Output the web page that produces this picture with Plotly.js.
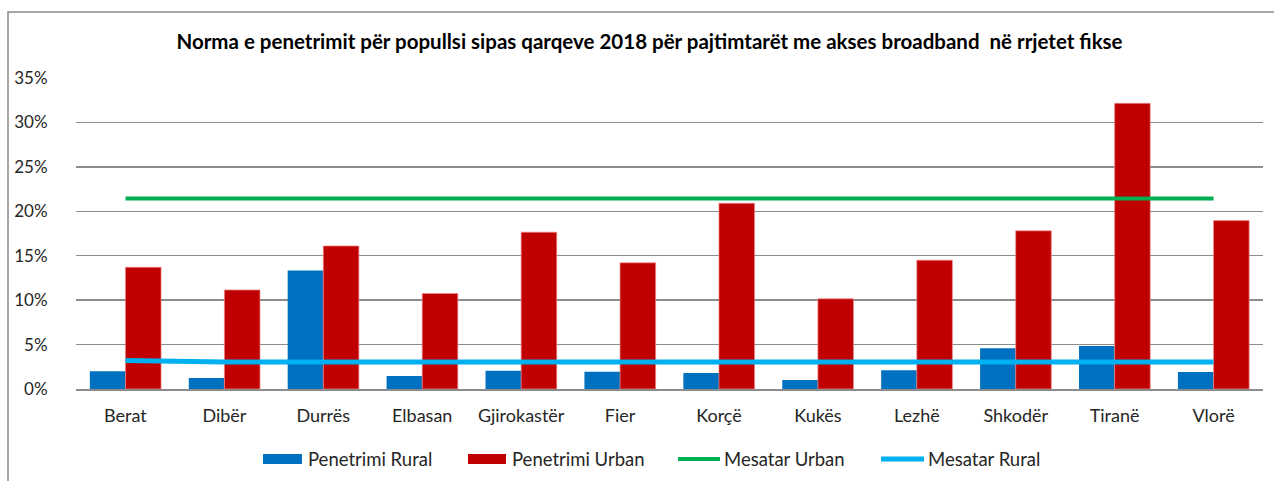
<!DOCTYPE html>
<html>
<head>
<meta charset="utf-8">
<script src="https://cdn.plot.ly/plotly-3.0.1.min.js"></script>
<style>html,body{margin:0;padding:0;background:#fff;}#chart{width:1274px;height:481px;}</style>
</head>
<body>
<div id="chart"></div>
<script>
const categories = ['Berat','Dibër','Durrës','Elbasan','Gjirokastër','Fier','Korçë','Kukës','Lezhë','Shkodër','Tiranë','Vlorë'];
const penetrimiRural = [2.0, 1.25, 13.35, 1.45, 2.05, 1.95, 1.8, 1.0, 2.1, 4.6, 4.85, 1.9];
const penetrimiUrban = [13.7, 11.15, 16.1, 10.75, 17.65, 14.2, 20.9, 10.15, 14.5, 17.8, 32.15, 18.95];
const mesatarUrban = [21.43, 21.43, 21.43, 21.43, 21.43, 21.43, 21.43, 21.43, 21.43, 21.43, 21.43, 21.43];
const mesatarRural = [3.2, 3.04, 3.04, 3.04, 3.04, 3.04, 3.04, 3.04, 3.04, 3.04, 3.04, 3.04];
const yTicks = [0, 5, 10, 15, 20, 25, 30, 35];
const seriesNames = ['Penetrimi Rural', 'Penetrimi Urban', 'Mesatar Urban', 'Mesatar Rural'];
const chartTitle = 'Norma e penetrimit për popullsi sipas qarqeve 2018 për pajtimtarët me akses broadband  në rrjetet fikse';

const W = 1274, H = 481;
const M = {l: 76, r: 11, t: 78, b: 92};
const PW = W - M.l - M.r, PH = H - M.t - M.b;
const px2x = px => (px - M.l) / PW;
const px2y = py => (H - M.b - py) / PH;

const FONT = 'Lato, "Open Sans", sans-serif';
const colors = ['#0070C0', '#C00000', '#00B050', '#00B0F0'];

const traces = [
  {type: 'bar', name: seriesNames[0], x: categories, y: penetrimiRural, marker: {color: colors[0]}, showlegend: false},
  {type: 'bar', name: seriesNames[1], x: categories, y: penetrimiUrban, marker: {color: colors[1], line: {color: 'rgba(240,140,140,0.7)', width: 1}}, showlegend: false},
  {type: 'scatter', mode: 'lines', name: seriesNames[2], x: categories, y: mesatarUrban, line: {color: colors[2], width: 4}, showlegend: false},
  {type: 'scatter', mode: 'lines', name: seriesNames[3], x: categories, y: mesatarRural, line: {color: colors[3], width: 5}, showlegend: false}
];

// custom legend
const legY = px2y(459);
const legendItems = [
  {kind: 'bar', x0: 263, x1: 302, tx: 306},
  {kind: 'bar', x0: 468, x1: 506, tx: 510},
  {kind: 'line', x0: 678, x1: 720, tx: 722, w: 4},
  {kind: 'line', x0: 881, x1: 924, tx: 926, w: 5}
];
const shapes = [
  {type: 'rect', xref: 'paper', yref: 'paper', x0: px2x(8), x1: px2x(1300), y0: px2y(500), y1: px2y(12),
   line: {color: '#8a8a8a', width: 1.5}, fillcolor: 'rgba(0,0,0,0)', layer: 'below'}
];
const annotations = [];
legendItems.forEach((it, i) => {
  if (it.kind === 'bar') {
    shapes.push({type: 'rect', xref: 'paper', yref: 'paper', x0: px2x(it.x0), x1: px2x(it.x1),
      y0: px2y(464), y1: px2y(454), line: {width: 0}, fillcolor: colors[i]});
  } else {
    shapes.push({type: 'line', xref: 'paper', yref: 'paper', x0: px2x(it.x0), x1: px2x(it.x1),
      y0: legY, y1: legY, line: {color: colors[i], width: it.w}});
  }
  annotations.push({xref: 'paper', yref: 'paper', x: px2x(it.tx), y: legY, xanchor: 'left', yanchor: 'middle',
    text: seriesNames[i], showarrow: false, font: {family: FONT, size: 18.5, color: '#262626'}});
});

const layout = {
  width: W, height: H,
  margin: M,
  paper_bgcolor: '#fff', plot_bgcolor: '#fff',
  barmode: 'group', bargap: 0.28, bargroupgap: 0,
  title: {text: '<b>' + chartTitle + '</b>', xref: 'container', x: 649.5 / W, xanchor: 'center',
    yref: 'container', y: 1 - 42 / H, yanchor: 'middle', font: {family: FONT, size: 20.5, color: '#000'}},
  xaxis: {type: 'category', showgrid: false, showline: true, linecolor: '#8c8c8c', linewidth: 2,
    ticks: '', ticklabelstandoff: 9, tickfont: {family: FONT, size: 18, color: '#262626'}, fixedrange: true},
  yaxis: {range: [0, 35], tickvals: yTicks, ticktext: yTicks.map(v => v + '%'), showgrid: true,
    gridcolor: '#8c8c8c', gridwidth: 1.5, zeroline: false, showline: false,
    ticks: 'outside', ticklen: 24, tickcolor: 'rgba(0,0,0,0)',
    tickfont: {family: FONT, size: 17, color: '#262626'}, fixedrange: true},
  shapes: shapes,
  annotations: annotations,
  showlegend: false
};

Plotly.newPlot('chart', traces, layout, {displayModeBar: false, staticPlot: true});
</script>
</body>
</html>
